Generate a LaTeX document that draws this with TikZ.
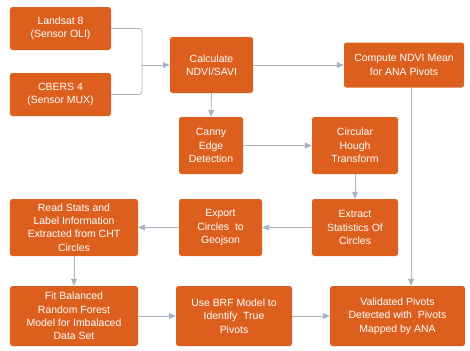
\documentclass[tikz,border=0pt]{standalone}
\usepackage{fontspec}
\setmainfont{Liberation Sans}
\usetikzlibrary{arrows.meta}
\definecolor{boxor}{HTML}{DD5F1E}
\definecolor{linegr}{HTML}{A9B4C2}
\tikzset{
  box/.style={draw=none, fill=boxor, rounded corners=2.5pt, text=white, align=center,
    font=\fontsize{10.5}{13.5}\selectfont, inner sep=0pt},
  conn/.style={draw=linegr, line width=0.8pt, -{Triangle[length=7pt,width=6pt]}},
  plain/.style={draw=linegr, line width=0.8pt}
}
\begin{document}
\begin{tikzpicture}[x=1bp,y=-1bp]
\useasboundingbox (0,0) rectangle (470,350);
\node[box, minimum width=101bp, minimum height=43bp] (landsat) at (60.5,28.5) {Landsat 8\\(Sensor OLI)};
\node[box, minimum width=101bp, minimum height=43bp] (cbers) at (60.5,94.5) {CBERS 4\\(Sensor MUX)};
\node[box, minimum width=83bp, minimum height=56bp] (calc) at (211.5,65) {Calculate\\NDVI/SAVI};
\node[box, minimum width=120bp, minimum height=45bp] (mean) at (404,65) {Compute NDVI Mean\\for ANA Pivots};
\node[box, minimum width=64bp, minimum height=57bp] (canny) at (211,145.5) {Canny\\Edge\\Detection};
\node[box, minimum width=86bp, minimum height=57bp] (hough) at (355,145.5) {Circular\\Hough\\Transform};
\node[box, minimum width=86bp, minimum height=57bp] (extract) at (355,227.5) {Extract\\Statistics Of\\Circles};
\node[box, minimum width=83bp, minimum height=57bp] (export) at (220.5,227.5) {Export\\Circles~~to\\Geojson};
\node[box, minimum width=128bp, minimum height=57bp] (read) at (74,227.5) {Read Stats and\\Label Information\\Extracted from CHT\\Circles};
\node[box, minimum width=128bp, minimum height=60bp] (fit) at (74,316) {Fit Balanced\\Random Forest\\Model for Imbalaced\\Data Set};
\node[box, minimum width=116bp, minimum height=60bp] (brf) at (234,316) {Use BRF Model to\\Identify~~True\\Pivots};
\node[box, minimum width=135bp, minimum height=60bp] (valid) at (397.5,316) {Validated Pivots\\Detected with~~Pivots\\Mapped by ANA};
\coordinate (j) at (142,65);
\draw[plain, rounded corners=3pt] (landsat.east) -| (j);
\draw[plain, rounded corners=3pt] (cbers.east) -| (j);
\draw[conn] (j) -- (calc.west);
\draw[conn] (calc.east) -- (mean.west);
\draw[conn] (calc.south) -- (canny.north);
\draw[conn] (canny.east) -- (hough.west);
\draw[conn] (hough.south) -- (extract.north);
\draw[conn] (extract.west) -- (export.east);
\draw[conn] (export.west) -- (read.east);
\draw[conn] (read.south) -- (fit.north);
\draw[conn] (fit.east) -- (brf.west);
\draw[conn] (brf.east) -- (valid.west);
\draw[conn] (mean.south -| 411,0) -- (valid.north -| 411,0);
\end{tikzpicture}
\end{document}
